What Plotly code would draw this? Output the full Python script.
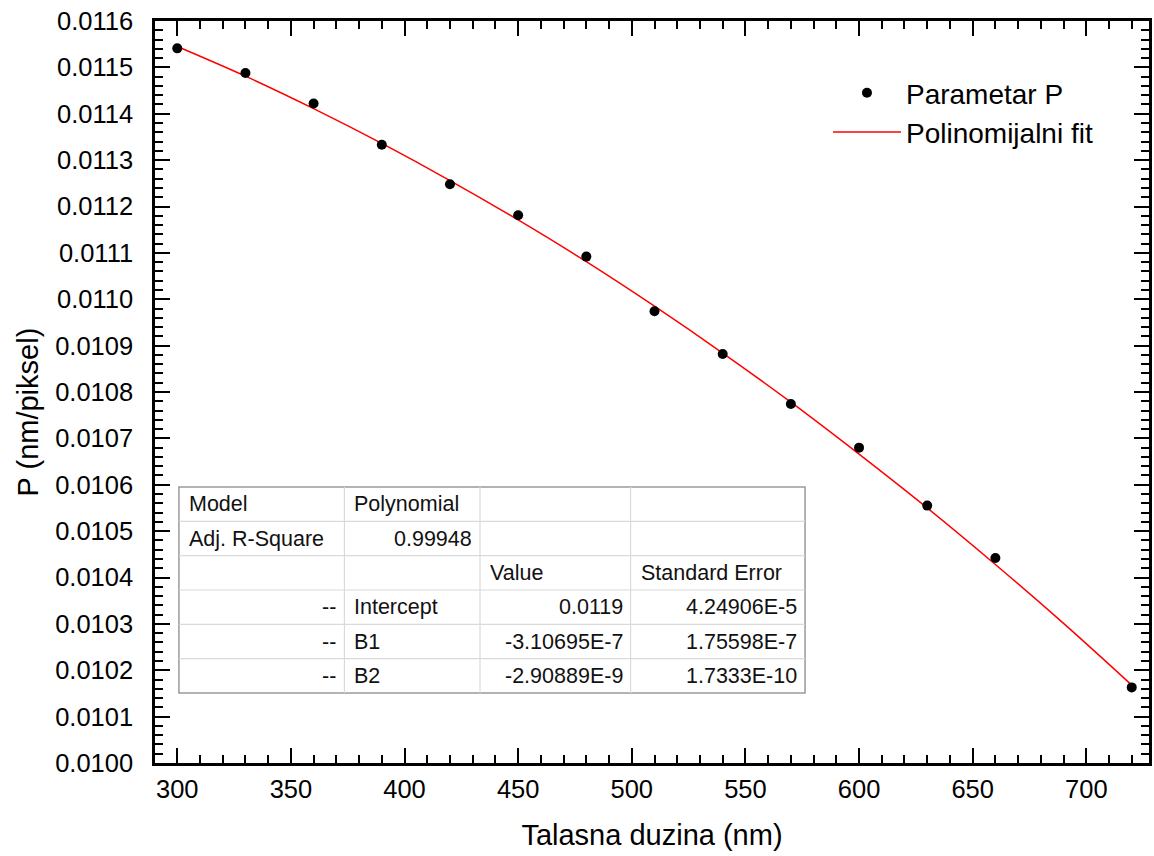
import plotly.graph_objects as go

# ---------------- data ----------------
wavelength = [300, 330, 360, 390, 420, 450, 480, 510, 540, 570, 600, 630, 660, 720]
param_p = [0.011541, 0.011488, 0.011422, 0.011333, 0.011248, 0.011181, 0.011092,
           0.010974, 0.010882, 0.010774, 0.010680, 0.010555, 0.010442, 0.010163]

fit_x = [300, 330, 360, 390, 420, 450, 480, 510, 540, 570, 600, 630, 660, 690, 720]
fit_y = [0.011545, 0.011481, 0.011411, 0.011336, 0.011256, 0.011171, 0.011081,
         0.010985, 0.010884, 0.010778, 0.010666, 0.010550, 0.010428, 0.010301, 0.010168]

table_col0 = ["Model", "Adj. R-Square", "", "--", "--", "--"]
table_col1 = ["Polynomial", "0.99948", "", "Intercept", "B1", "B2"]
table_col2 = ["", "", "Value", "0.0119", "-3.10695E-7", "-2.90889E-9"]
table_col3 = ["", "", "Standard Error", "4.24906E-5", "1.75598E-7", "1.7333E-10"]

x_title = "Talasna duzina (nm)"
y_title = "P (nm/piksel)"
name_points = "Parametar P"
name_fit = "Polinomijalni fit"

# ---------------- geometry ----------------
W, H = 1154, 856
PL, PR, PT, PB = 155, 1152, 21, 763   # plot area in pixels
FONT = "Liberation Sans, Arial, sans-serif"


def px_x(p):
    return (p - PL) / (PR - PL)


def px_y(p):
    return (PB - p) / (PB - PT)


fig = go.Figure()

fig.add_trace(go.Scatter(
    x=fit_x, y=fit_y, mode="lines", name=name_fit,
    line=dict(color="#ff0000", width=1.5, shape="spline"),
))
fig.add_trace(go.Scatter(
    x=wavelength, y=param_p, mode="markers", name=name_points,
    marker=dict(color="black", size=10),
))

# ---------------- table (drawn with shapes + annotations) ----------------
tab_cols = [179, 345, 481, 632, 807]
tab_top, tab_bot = 487, 693
nrows = len(table_col0)
row_h = (tab_bot - tab_top) / nrows

shapes = []
shapes.append(dict(type="rect", xref="paper", yref="paper",
                   x0=px_x(tab_cols[0]), x1=px_x(tab_cols[-1]),
                   y0=px_y(tab_bot), y1=px_y(tab_top),
                   fillcolor="white", line=dict(color="#9a9a9a", width=1.5), layer="above"))
for cx in tab_cols[1:-1]:
    shapes.append(dict(type="line", xref="paper", yref="paper",
                       x0=px_x(cx), x1=px_x(cx), y0=px_y(tab_bot), y1=px_y(tab_top),
                       line=dict(color="#dadada", width=1.2), layer="above"))
for r in range(1, nrows):
    yy = tab_top + r * row_h
    shapes.append(dict(type="line", xref="paper", yref="paper",
                       x0=px_x(tab_cols[0]), x1=px_x(tab_cols[-1]), y0=px_y(yy), y1=px_y(yy),
                       line=dict(color="#dadada", width=1.2), layer="above"))

annotations = []
columns = [table_col0, table_col1, table_col2, table_col3]
for ci, col in enumerate(columns):
    for ri, txt in enumerate(col):
        if not txt:
            continue
        right = txt[0].isdigit() or txt[0] == "-"
        yc = tab_top + (ri + 0.5) * row_h
        if right:
            xx, anchor = px_x(tab_cols[ci + 1] - 6), "right"
        else:
            xx, anchor = px_x(tab_cols[ci] + 8), "left"
        annotations.append(dict(xref="paper", yref="paper", x=xx, y=px_y(yc),
                                text=txt, showarrow=False, xanchor=anchor, yanchor="middle",
                                font=dict(family=FONT, size=21.5, color="#111111")))

# y-axis title (placed as rotated text to match the original's offset position)
annotations.append(dict(xref="paper", yref="paper", x=px_x(28), y=px_y(412),
                        text=y_title, textangle=-90, showarrow=False,
                        xanchor="center", yanchor="middle",
                        font=dict(family=FONT, size=29, color="black")))

axis_common = dict(
    showline=True, linecolor="black", linewidth=2.5, mirror="ticks",
    ticks="inside", ticklen=15, tickwidth=2, tickcolor="black",
    showgrid=False, zeroline=False,
    tickfont=dict(family=FONT, size=25.5, color="black"),
)

fig.update_layout(
    width=W, height=H,
    margin=dict(l=PL, r=W - PR, t=PT, b=H - PB),
    paper_bgcolor="white", plot_bgcolor="white",
    font=dict(family=FONT, color="black"),
    xaxis=dict(
        range=[290.2, 727.6], dtick=50, tick0=300,
        minor=dict(dtick=10, ticklen=8, tickwidth=2, tickcolor="black", ticks="inside"),
        title=dict(text=x_title, font=dict(family=FONT, size=29, color="black"), standoff=23),
        ticklabelstandoff=2,
        **axis_common,
    ),
    yaxis=dict(
        range=[0.0100, 0.0116], dtick=0.0001, tick0=0.0100, tickformat=".4f",
        minor=dict(dtick=0.00002, ticklen=8, tickwidth=2, tickcolor="black", ticks="inside"),
        ticklabelstandoff=14,
        **axis_common,
    ),
    legend=dict(
        x=px_x(830), y=px_y(68), xanchor="left", yanchor="top",
        bgcolor="rgba(0,0,0,0)", borderwidth=0,
        font=dict(family=FONT, size=28, color="black"),
        traceorder="reversed", itemwidth=68, tracegroupgap=0,
    ),
    shapes=shapes,
    annotations=annotations,
)

fig.write_html("out.html")
